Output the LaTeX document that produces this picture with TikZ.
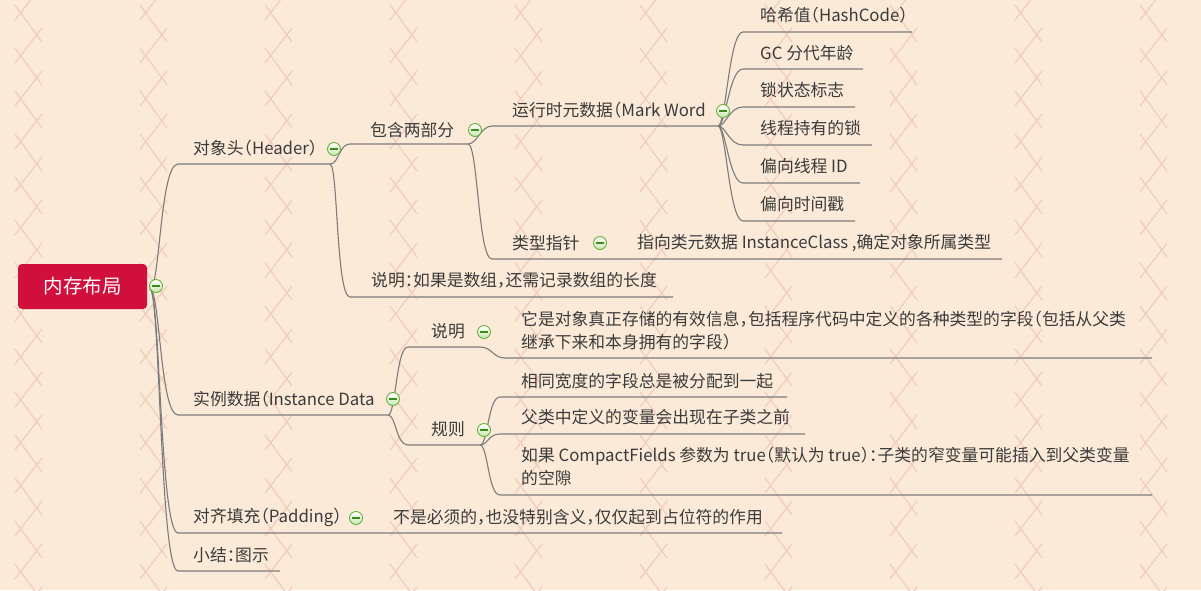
\documentclass[tikz,border=0pt]{standalone}
\usepackage{fontspec}
\setmainfont{Noto Sans CJK SC}[RawFeature=+halt]
\definecolor{bgc}{HTML}{FBEAD7}
\definecolor{xpat}{HTML}{F2CDBF}
\definecolor{connc}{HTML}{7C7C7C}
\definecolor{txtc}{HTML}{3B3B3B}
\definecolor{rootc}{HTML}{D10F3C}
\definecolor{btnb}{HTML}{66AE3E}
\definecolor{btnf}{HTML}{C9E8AE}
\definecolor{btnm}{HTML}{3E8A1E}
\begin{document}
\begin{tikzpicture}[x=1pt,y=-1pt,
  topic/.style={anchor=west,inner sep=0pt,text=txtc,align=left,font=\fontsize{16.8}{23}\selectfont},
  rootbox/.style={fill=rootc,rounded corners=4pt,minimum width=129pt,minimum height=45pt,inner sep=0pt,text=white,font=\fontsize{19.5}{22}\selectfont},
  link/.style={draw=connc,line width=1.1pt},
  btn/.pic={\shade[top color=white,bottom color=btnf,draw=btnb,line width=0.9pt] (0,0) circle (6.5);
            \draw[btnm,line width=1.3pt] (-3.6,0)--(3.6,0);}
]
\fill[bgc] (0,0) rectangle (1201,590);
\useasboundingbox (0,0) rectangle (1201,590);
\begin{scope}
\clip (0,0) rectangle (1201,590);
\foreach \c in {0,...,9} {
  \foreach \k in {0,...,14} {
    \draw[xpat,line width=1.3pt] ({15+125*\c},{5+43*\k}) -- ++(27,37);
    \draw[xpat,line width=1.3pt] ({42+125*\c},{-15+43*\k}) -- ++(-27,35);
  }
}
\end{scope}

% root
\node[rootbox] (root) at (82.5,286.5) {内存布局};
\coordinate (rootR) at (150,289);

% level 1
\node[topic] (hdr) at (193,148) {对象头（Header）};
\coordinate (hdrL) at (178,164); \coordinate (hdrR) at (330,164);
\node[topic] (inst) at (193,399) {实例数据（Instance Data};
\coordinate (instL) at (178,415); \coordinate (instR) at (388,415);
\node[topic] (pad) at (193,517) {对齐填充（Padding）};
\coordinate (padL) at (178,533); \coordinate (padR) at (370,533);
\node[topic] (padc) at (393,517) {不是必须的，也没特别含义，仅仅起到占位符的作用};
\coordinate (padcL) at (380,533); \coordinate (padcR) at (782,533);
\node[topic] (sum) at (193,555) {小结：图示};
\coordinate (sumL) at (178,571); \coordinate (sumR) at (280,571);

% level 2 under header
\node[topic] (inc) at (370,130) {包含两部分};
\coordinate (incL) at (350,144); \coordinate (incR) at (468,144);
\node[topic] (note) at (371,280) {说明：如果是数组，还需记录数组的长度};
\coordinate (noteL) at (350,297); \coordinate (noteR) at (673,297);

% level 3
\node[topic] (mw) at (512,110) {运行时元数据（Mark Word};
\coordinate (mwL) at (492,126); \coordinate (mwR) at (718,126);
\node[topic] (ptr) at (512,243) {类型指针};
\coordinate (ptrL) at (492,259); \coordinate (ptrR) at (612,259);
\node[topic] (ptrc) at (637,243) {指向类元数据 InstanceClass ,确定对象所属类型};
\coordinate (ptrcL) at (622,259); \coordinate (ptrcR) at (1002,259);

% level 4 (Mark Word)
\node[topic] (h1) at (760,15) {哈希值（HashCode）};
\coordinate (h1L) at (743,32); \coordinate (h1R) at (912,32);
\node[topic] (h2) at (760,53) {GC 分代年龄};
\coordinate (h2L) at (743,69); \coordinate (h2R) at (863,69);
\node[topic] (h3) at (760,90) {锁状态标志};
\coordinate (h3L) at (743,107); \coordinate (h3R) at (855,107);
\node[topic] (h4) at (760,128) {线程持有的锁};
\coordinate (h4L) at (743,145); \coordinate (h4R) at (872,145);
\node[topic] (h5) at (760,166) {偏向线程 ID};
\coordinate (h5L) at (743,183); \coordinate (h5R) at (860,183);
\node[topic] (h6) at (760,204) {偏向时间戳};
\coordinate (h6L) at (743,221); \coordinate (h6R) at (855,221);

% level 2 under instance data
\node[topic] (sm) at (431,331) {说明};
\coordinate (smL) at (408,347); \coordinate (smR) at (480,347);
\node[topic] (smc) at (521,330.5) {它是对象真正存储的有效信息，包括程序代码中定义的各种类型的字段（包括从父类\\继承下来和本身拥有的字段）};
\coordinate (smcL) at (505,358); \coordinate (smcR) at (1152,358);
\node[topic] (rule) at (431,429) {规则};
\coordinate (ruleL) at (408,445); \coordinate (ruleR) at (480,445);
\node[topic] (r1) at (521,381) {相同宽度的字段总是被分配到一起};
\coordinate (r1L) at (500,397); \coordinate (r1R) at (787,397);
\node[topic] (r2) at (521,417) {父类中定义的变量会出现在子类之前};
\coordinate (r2L) at (500,434); \coordinate (r2R) at (805,434);
\node[topic] (r3) at (521,466.5) {如果 CompactFields 参数为 true（默认为 true）：子类的窄变量可能插入到父类变量\\的空隙};
\coordinate (r3L) at (500,495); \coordinate (r3R) at (1152,495);

% connectors
\draw[link] (rootR) .. controls +(10,0) and +(-18,0) .. (hdrL) -- (hdrR);
\draw[link] (rootR) .. controls +(10,0) and +(-18,0) .. (instL) -- (instR);
\draw[link] (rootR) .. controls +(10,0) and +(-18,0) .. (padL) -- (padR) -- (padcL) -- (padcR);
\draw[link] (rootR) .. controls +(10,0) and +(-18,0) .. (sumL) -- (sumR);

\draw[link] (hdrR) .. controls +(9,0) and +(-11,0) .. (incL) -- (incR);
\draw[link] (hdrR) .. controls +(8,0) and +(-14,0) .. (noteL) -- (noteR);

\draw[link] (incR) .. controls +(9,0) and +(-11,0) .. (mwL) -- (mwR);
\draw[link] (incR) .. controls +(10,0) and +(-14,0) .. (ptrL) -- (ptrR) -- (ptrcL) -- (ptrcR);

\foreach \h in {h1,h2,h3,h4,h5,h6}
  \draw[link] (mwR) .. controls +(8,0) and +(-14,0) .. (\h L) -- (\h R);

\draw[link] (instR) .. controls +(8,0) and +(-12,0) .. (smL) -- (smR);
\draw[link] (instR) .. controls +(8,0) and +(-12,0) .. (ruleL) -- (ruleR);
\draw[link] (smR) .. controls +(12,0) and +(-12,0) .. (smcL) -- (smcR);
\foreach \r in {r1,r2,r3}
  \draw[link] (ruleR) .. controls +(8,0) and +(-12,0) .. (\r L) -- (\r R);

% collapse buttons
\pic at (156,286) {btn};
\pic at (334,149) {btn};
\pic at (393,399) {btn};
\pic at (356,518) {btn};
\pic at (475,130) {btn};
\pic at (723,111) {btn};
\pic at (600,243) {btn};
\pic at (484,332) {btn};
\pic at (484,430) {btn};
\end{tikzpicture}
\end{document}
